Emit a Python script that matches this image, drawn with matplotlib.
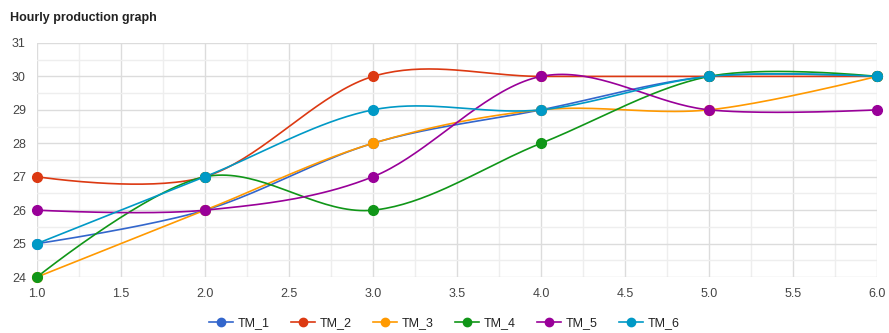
import numpy as np
import matplotlib.pyplot as plt
from matplotlib.ticker import MultipleLocator

plt.rcParams['font.family'] = ['Liberation Sans', 'DejaVu Sans']

hours = [1.0, 2.0, 3.0, 4.0, 5.0, 6.0]
tm_1 = [25, 26, 28, 29, 30, 30]
tm_2 = [27, 27, 30, 30, 30, 30]
tm_3 = [24, 26, 28, 29, 29, 30]
tm_4 = [24, 27, 26, 28, 30, 30]
tm_5 = [26, 26, 27, 30, 29, 29]
tm_6 = [25, 27, 29, 29, 30, 30]
names = ['TM_1', 'TM_2', 'TM_3', 'TM_4', 'TM_5', 'TM_6']
colors = ['#3366cc', '#dc3912', '#ff9900', '#109618', '#990099', '#0099c6']


def smooth(xs, ys, n=40):
    # cubic bezier through every point, catmull-rom style handles
    xs = np.asarray(xs, float)
    ys = np.asarray(ys, float)
    pts = np.column_stack([xs, ys])
    k = len(pts)
    tang = np.zeros_like(pts)
    for i in range(1, k - 1):
        tang[i] = (pts[i + 1] - pts[i - 1]) / 2.0
    out = []
    t = np.linspace(0, 1, n)[:, None]
    for i in range(k - 1):
        p0, p3 = pts[i], pts[i + 1]
        p1 = p0 + tang[i] / 3.0
        p2 = p3 - tang[i + 1] / 3.0
        seg = ((1 - t) ** 3) * p0 + 3 * ((1 - t) ** 2) * t * p1 \
            + 3 * (1 - t) * t ** 2 * p2 + t ** 3 * p3
        out.append(seg if i == 0 else seg[1:])
    out = np.vstack(out)
    return out[:, 0], out[:, 1]


fig = plt.figure(figsize=(8.89, 3.33), dpi=100)
ax = fig.add_axes([0.0416, 0.168, 0.945, 0.703])

series = [tm_1, tm_2, tm_3, tm_4, tm_5, tm_6]
for vals, name, c in zip(series, names, colors):
    sx, sy = smooth(hours, vals)
    ax.plot(sx, sy, color=c, lw=1.2, zorder=3, clip_on=False)
    ax.plot(hours, vals, 'o', color=c, ms=7, mec=c, zorder=4, clip_on=False)
    ax.plot([], [], '-o', color=c, lw=1.2, ms=6, label=name)

ax.set_xlim(1.0, 6.0)
ax.set_ylim(24, 31)
ax.xaxis.set_major_locator(MultipleLocator(0.5))
ax.xaxis.set_minor_locator(MultipleLocator(0.25))
ax.yaxis.set_major_locator(MultipleLocator(1))
ax.yaxis.set_minor_locator(MultipleLocator(0.5))
ax.xaxis.set_major_formatter(plt.FormatStrFormatter('%.1f'))
ax.grid(which='major', color='#dcdcdc', lw=1.0)
ax.grid(which='minor', color='#eeeeee', lw=1.0)
ax.set_axisbelow(True)
for s in ax.spines.values():
    s.set_visible(False)
ax.tick_params(which='both', length=0, labelsize=9, labelcolor='#444444')
ax.tick_params(axis='y', pad=8)
ax.tick_params(axis='x', pad=8)

fig.text(0.011, 0.945, 'Hourly production graph', fontsize=9,
         fontweight='bold', color='#222222', va='center')

fig.legend(loc='center', bbox_to_anchor=(0.5, 0.03), ncol=6, frameon=False,
           fontsize=9, handlelength=1.9, columnspacing=1.7, handletextpad=0.4,
           labelcolor='#222222')

fig.savefig('out.png', dpi=100, facecolor='white')
